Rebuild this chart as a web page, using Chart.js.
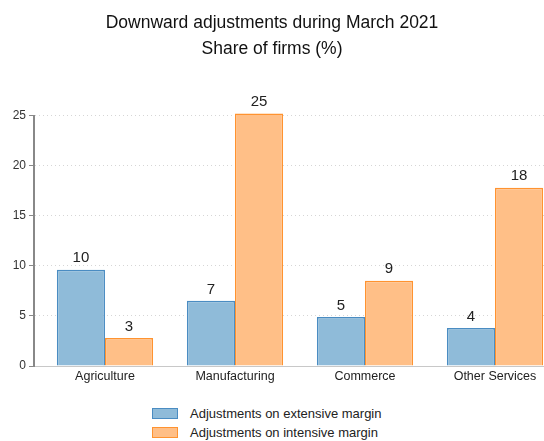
<!DOCTYPE html>
<html lang="en">
<head>
    <meta charset="UTF-8">
    <title>Downward adjustments during March 2021</title>
    <script src="https://cdn.jsdelivr.net/npm/chart.js"></script>
    <style>
        html, body { margin: 0; padding: 0; background: #fff; overflow: hidden; }
        .chart-container { position: relative; width: 544px; height: 387px; }
        #legend { font-family: "Liberation Sans", Arial, sans-serif; font-size: 13px; color: #222;
                  width: 544px; display: flex; flex-direction: column; align-items: center; margin-top: 17px; }
        #legend .item { display: flex; align-items: center; height: 19px; width: 240px; }
        #legend .box { width: 24px; height: 9px; border: 1px solid; margin-right: 12px; }
    </style>
</head>
<body>
    <div class="chart-container">
        <canvas id="chart"></canvas>
    </div>
    <div id="legend"></div>

    <script>
        const categories = ["Agriculture", "Manufacturing", "Commerce", "Other Services"];
        const extensive = [9.6, 6.5, 4.9, 3.8];
        const intensive = [2.8, 25.2, 8.5, 17.8];
        const seriesNames = ["Adjustments on extensive margin", "Adjustments on intensive margin"];
        const yTicks = [0, 5, 10, 15, 20, 25];

        const font = "'Liberation Sans', Arial, sans-serif";

        // etiquetas encima de cada barra
        const barLabels = {
            id: 'barLabels',
            afterDatasetsDraw(chart) {
                const ctx = chart.ctx;
                ctx.save();
                ctx.font = "15px " + font;
                ctx.fillStyle = "#222";
                ctx.textAlign = "center";
                ctx.textBaseline = "bottom";
                chart.data.datasets.forEach((ds, i) => {
                    chart.getDatasetMeta(i).data.forEach((bar, j) => {
                        ctx.fillText(Math.round(ds.data[j].y), bar.x, bar.y - 4);
                    });
                });
                ctx.restore();
            }
        };

        const chart = new Chart(document.getElementById("chart"), {
            type: 'bar',
            data: {
                datasets: [
                    {
                        label: seriesNames[0],
                        data: extensive.map((v, i) => ({ x: i, y: v })),
                        backgroundColor: "#8fbbd9",
                        borderColor: "#4a8cc2",
                        borderWidth: 1.5,
                        clip: false,
                    },
                    {
                        label: seriesNames[1],
                        data: intensive.map((v, i) => ({ x: i, y: v })),
                        backgroundColor: "#ffbf87",
                        borderColor: "#ff9330",
                        borderWidth: 1.5,
                        clip: false,
                    },
                ]
            },
            options: {
                responsive: true,
                maintainAspectRatio: false,
                animation: false,
                categoryPercentage: 0.74,
                barPercentage: 1.0,
                layout: { padding: 0 },
                plugins: {
                    legend: { display: false },
                    tooltip: { enabled: false },
                    title: {
                        display: true,
                        text: ["Downward adjustments during March 2021", "Share of firms (%)"],
                        color: "#111",
                        font: { family: font, size: 17.5, weight: 'normal', lineHeight: 1.5 },
                        padding: { top: 10, bottom: 53 }
                    }
                },
                scales: {
                    x: {
                        type: 'linear',
                        min: -0.546,
                        max: 3.377,
                        offset: false,
                        grid: { display: false, drawTicks: false },
                        border: { color: "#c8c8c8", width: 1 },
                        ticks: {
                            stepSize: 1,
                            includeBounds: false,
                            autoSkip: false,
                            maxRotation: 0,
                            padding: 3,
                            color: "#222",
                            font: { family: font, size: 12.5 },
                            callback: v => categories[v]
                        }
                    },
                    y: {
                        min: 0,
                        max: 25,
                        afterFit: s => { s.width = 34; },
                        afterBuildTicks: s => { s.ticks = yTicks.map(v => ({ value: v })); },
                        grid: {
                            color: "#d6d6d6",
                            tickColor: "#888",
                            tickLength: 5,
                            tickBorderDash: []
                        },
                        border: { color: "#888", width: 2, dash: [1, 3] },
                        ticks: {
                            padding: 3,
                            color: "#333",
                            font: { family: font, size: 12 }
                        }
                    }
                }
            },
            plugins: [barLabels]
        });

        // leyenda en dos filas
        const legend = document.getElementById("legend");
        chart.data.datasets.forEach(ds => {
            const item = document.createElement("div");
            item.className = "item";
            const box = document.createElement("span");
            box.className = "box";
            box.style.background = ds.backgroundColor;
            box.style.borderColor = ds.borderColor;
            const txt = document.createElement("span");
            txt.textContent = ds.label;
            item.appendChild(box);
            item.appendChild(txt);
            legend.appendChild(item);
        });
    </script>
</body>
</html>
